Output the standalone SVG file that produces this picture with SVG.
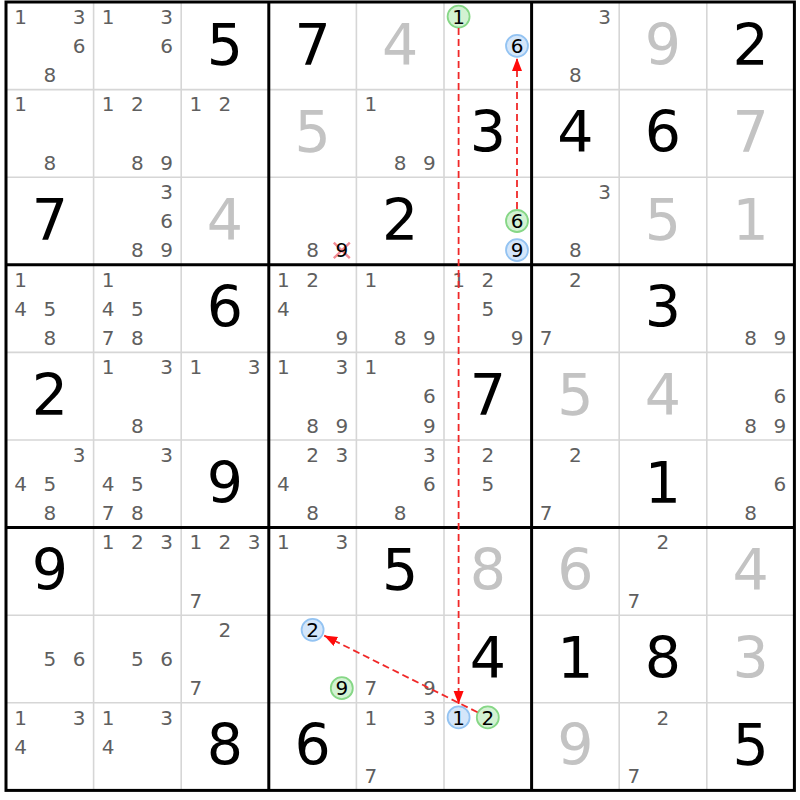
<svg xmlns="http://www.w3.org/2000/svg" width="800" height="800" viewBox="0 0 800 800">
<style>
text{font-family:"DejaVu Sans","Verdana",sans-serif;text-anchor:middle}
.p{font-size:20px;fill:#5f5f5f}
.g{font-size:57px;fill:#000}
.s{font-size:57px;fill:#c3c3c3}
.k{font-size:20px;fill:#000}
.thin{stroke:#d6d6d6;stroke-width:1.6}
.thick{stroke:#000;stroke-width:3}
.cg{fill:#d3f2d3;stroke:#86d786;stroke-width:1.8}
.cb{fill:#d4e6fa;stroke:#93c3f2;stroke-width:1.8}
.ar{stroke:#f02828;stroke-width:1.8;stroke-dasharray:7 4;fill:none}
</style>
<defs>
<marker id="ah" markerUnits="userSpaceOnUse" markerWidth="14" markerHeight="12" refX="13" refY="5" orient="auto">
<path d="M0,0 L13,5 L0,10 z" fill="#ff0a0a"/>
</marker>
</defs>
<rect width="800" height="800" fill="#fff"/>
<g id="grid">
<g class="thin">
<line x1="93.6" y1="2" x2="93.6" y2="790.4"/><line x1="181.2" y1="2" x2="181.2" y2="790.4"/>
<line x1="356.4" y1="2" x2="356.4" y2="790.4"/><line x1="444" y1="2" x2="444" y2="790.4"/>
<line x1="619.2" y1="2" x2="619.2" y2="790.4"/><line x1="706.8" y1="2" x2="706.8" y2="790.4"/>
<line x1="6" y1="89.6" x2="794.4" y2="89.6"/><line x1="6" y1="177.2" x2="794.4" y2="177.2"/>
<line x1="6" y1="352.4" x2="794.4" y2="352.4"/><line x1="6" y1="440" x2="794.4" y2="440"/>
<line x1="6" y1="615.2" x2="794.4" y2="615.2"/><line x1="6" y1="702.8" x2="794.4" y2="702.8"/>
</g>
<g class="thick">
<line x1="268.8" y1="2" x2="268.8" y2="790.4"/><line x1="531.6" y1="2" x2="531.6" y2="790.4"/>
<line x1="6" y1="264.8" x2="794.4" y2="264.8"/><line x1="6" y1="527.6" x2="794.4" y2="527.6"/>
<rect x="6" y="2" width="788.4" height="788.4" fill="none"/>
</g>
</g>
<!-- row 0 -->
<g id="r0c0" transform="translate(6,2)"><text class="p" x="14.6" y="21.8">1</text><text class="p" x="73" y="21.8">3</text><text class="p" x="73" y="51">6</text><text class="p" x="43.8" y="80.2">8</text></g>
<g id="r0c1" transform="translate(93.6,2)"><text class="p" x="14.6" y="21.8">1</text><text class="p" x="73" y="21.8">3</text><text class="p" x="73" y="51">6</text></g>
<g id="r0c2" transform="translate(181.2,2)"><text class="g" x="43.8" y="62.5">5</text></g>
<g id="r0c3" transform="translate(268.8,2)"><text class="g" x="43.8" y="62.5">7</text></g>
<g id="r0c4" transform="translate(356.4,2)"><text class="s" x="43.8" y="62.5">4</text></g>
<g id="r0c5" transform="translate(444,2)"><circle class="cg" cx="14.6" cy="14.6" r="11"/><text class="k" x="14.6" y="21.8">1</text><circle class="cb" cx="73" cy="43.8" r="11"/><text class="k" x="73" y="51">6</text></g>
<g id="r0c6" transform="translate(531.6,2)"><text class="p" x="73" y="21.8">3</text><text class="p" x="43.8" y="80.2">8</text></g>
<g id="r0c7" transform="translate(619.2,2)"><text class="s" x="43.8" y="62.5">9</text></g>
<g id="r0c8" transform="translate(706.8,2)"><text class="g" x="43.8" y="62.5">2</text></g>
<!-- row 1 -->
<g id="r1c0" transform="translate(6,89.6)"><text class="p" x="14.6" y="21.8">1</text><text class="p" x="43.8" y="80.2">8</text></g>
<g id="r1c1" transform="translate(93.6,89.6)"><text class="p" x="14.6" y="21.8">1</text><text class="p" x="43.8" y="21.8">2</text><text class="p" x="43.8" y="80.2">8</text><text class="p" x="73" y="80.2">9</text></g>
<g id="r1c2" transform="translate(181.2,89.6)"><text class="p" x="14.6" y="21.8">1</text><text class="p" x="43.8" y="21.8">2</text></g>
<g id="r1c3" transform="translate(268.8,89.6)"><text class="s" x="43.8" y="62.5">5</text></g>
<g id="r1c4" transform="translate(356.4,89.6)"><text class="p" x="14.6" y="21.8">1</text><text class="p" x="43.8" y="80.2">8</text><text class="p" x="73" y="80.2">9</text></g>
<g id="r1c5" transform="translate(444,89.6)"><text class="g" x="43.8" y="62.5">3</text></g>
<g id="r1c6" transform="translate(531.6,89.6)"><text class="g" x="43.8" y="62.5">4</text></g>
<g id="r1c7" transform="translate(619.2,89.6)"><text class="g" x="43.8" y="62.5">6</text></g>
<g id="r1c8" transform="translate(706.8,89.6)"><text class="s" x="43.8" y="62.5">7</text></g>
<!-- row 2 -->
<g id="r2c0" transform="translate(6,177.2)"><text class="g" x="43.8" y="62.5">7</text></g>
<g id="r2c1" transform="translate(93.6,177.2)"><text class="p" x="73" y="21.8">3</text><text class="p" x="73" y="51">6</text><text class="p" x="43.8" y="80.2">8</text><text class="p" x="73" y="80.2">9</text></g>
<g id="r2c2" transform="translate(181.2,177.2)"><text class="s" x="43.8" y="62.5">4</text></g>
<g id="r2c3" transform="translate(268.8,177.2)"><text class="p" x="43.8" y="80.2">8</text><path d="M65,65.5 L81,81 M81,65.5 L65,81" stroke="#f28b95" stroke-width="2.4" fill="none"/><text class="k" x="73" y="80.2">9</text></g>
<g id="r2c4" transform="translate(356.4,177.2)"><text class="g" x="43.8" y="62.5">2</text></g>
<g id="r2c5" transform="translate(444,177.2)"><circle class="cg" cx="73" cy="43.8" r="11"/><text class="k" x="73" y="51">6</text><circle class="cb" cx="73" cy="73" r="11"/><text class="k" x="73" y="80.2">9</text></g>
<g id="r2c6" transform="translate(531.6,177.2)"><text class="p" x="73" y="21.8">3</text><text class="p" x="43.8" y="80.2">8</text></g>
<g id="r2c7" transform="translate(619.2,177.2)"><text class="s" x="43.8" y="62.5">5</text></g>
<g id="r2c8" transform="translate(706.8,177.2)"><text class="s" x="43.8" y="62.5">1</text></g>
<!-- row 3 -->
<g id="r3c0" transform="translate(6,264.8)"><text class="p" x="14.6" y="21.8">1</text><text class="p" x="14.6" y="51">4</text><text class="p" x="43.8" y="51">5</text><text class="p" x="43.8" y="80.2">8</text></g>
<g id="r3c1" transform="translate(93.6,264.8)"><text class="p" x="14.6" y="21.8">1</text><text class="p" x="14.6" y="51">4</text><text class="p" x="43.8" y="51">5</text><text class="p" x="14.6" y="80.2">7</text><text class="p" x="43.8" y="80.2">8</text></g>
<g id="r3c2" transform="translate(181.2,264.8)"><text class="g" x="43.8" y="62.5">6</text></g>
<g id="r3c3" transform="translate(268.8,264.8)"><text class="p" x="14.6" y="21.8">1</text><text class="p" x="43.8" y="21.8">2</text><text class="p" x="14.6" y="51">4</text><text class="p" x="73" y="80.2">9</text></g>
<g id="r3c4" transform="translate(356.4,264.8)"><text class="p" x="14.6" y="21.8">1</text><text class="p" x="43.8" y="80.2">8</text><text class="p" x="73" y="80.2">9</text></g>
<g id="r3c5" transform="translate(444,264.8)"><text class="p" x="14.6" y="21.8">1</text><text class="p" x="43.8" y="21.8">2</text><text class="p" x="43.8" y="51">5</text><text class="p" x="73" y="80.2">9</text></g>
<g id="r3c6" transform="translate(531.6,264.8)"><text class="p" x="43.8" y="21.8">2</text><text class="p" x="14.6" y="80.2">7</text></g>
<g id="r3c7" transform="translate(619.2,264.8)"><text class="g" x="43.8" y="62.5">3</text></g>
<g id="r3c8" transform="translate(706.8,264.8)"><text class="p" x="43.8" y="80.2">8</text><text class="p" x="73" y="80.2">9</text></g>
<!-- row 4 -->
<g id="r4c0" transform="translate(6,352.4)"><text class="g" x="43.8" y="62.5">2</text></g>
<g id="r4c1" transform="translate(93.6,352.4)"><text class="p" x="14.6" y="21.8">1</text><text class="p" x="73" y="21.8">3</text><text class="p" x="43.8" y="80.2">8</text></g>
<g id="r4c2" transform="translate(181.2,352.4)"><text class="p" x="14.6" y="21.8">1</text><text class="p" x="73" y="21.8">3</text></g>
<g id="r4c3" transform="translate(268.8,352.4)"><text class="p" x="14.6" y="21.8">1</text><text class="p" x="73" y="21.8">3</text><text class="p" x="43.8" y="80.2">8</text><text class="p" x="73" y="80.2">9</text></g>
<g id="r4c4" transform="translate(356.4,352.4)"><text class="p" x="14.6" y="21.8">1</text><text class="p" x="73" y="51">6</text><text class="p" x="73" y="80.2">9</text></g>
<g id="r4c5" transform="translate(444,352.4)"><text class="g" x="43.8" y="62.5">7</text></g>
<g id="r4c6" transform="translate(531.6,352.4)"><text class="s" x="43.8" y="62.5">5</text></g>
<g id="r4c7" transform="translate(619.2,352.4)"><text class="s" x="43.8" y="62.5">4</text></g>
<g id="r4c8" transform="translate(706.8,352.4)"><text class="p" x="73" y="51">6</text><text class="p" x="43.8" y="80.2">8</text><text class="p" x="73" y="80.2">9</text></g>
<!-- row 5 -->
<g id="r5c0" transform="translate(6,440)"><text class="p" x="73" y="21.8">3</text><text class="p" x="14.6" y="51">4</text><text class="p" x="43.8" y="51">5</text><text class="p" x="43.8" y="80.2">8</text></g>
<g id="r5c1" transform="translate(93.6,440)"><text class="p" x="73" y="21.8">3</text><text class="p" x="14.6" y="51">4</text><text class="p" x="43.8" y="51">5</text><text class="p" x="14.6" y="80.2">7</text><text class="p" x="43.8" y="80.2">8</text></g>
<g id="r5c2" transform="translate(181.2,440)"><text class="g" x="43.8" y="62.5">9</text></g>
<g id="r5c3" transform="translate(268.8,440)"><text class="p" x="43.8" y="21.8">2</text><text class="p" x="73" y="21.8">3</text><text class="p" x="14.6" y="51">4</text><text class="p" x="43.8" y="80.2">8</text></g>
<g id="r5c4" transform="translate(356.4,440)"><text class="p" x="73" y="21.8">3</text><text class="p" x="73" y="51">6</text><text class="p" x="43.8" y="80.2">8</text></g>
<g id="r5c5" transform="translate(444,440)"><text class="p" x="43.8" y="21.8">2</text><text class="p" x="43.8" y="51">5</text></g>
<g id="r5c6" transform="translate(531.6,440)"><text class="p" x="43.8" y="21.8">2</text><text class="p" x="14.6" y="80.2">7</text></g>
<g id="r5c7" transform="translate(619.2,440)"><text class="g" x="43.8" y="62.5">1</text></g>
<g id="r5c8" transform="translate(706.8,440)"><text class="p" x="73" y="51">6</text><text class="p" x="43.8" y="80.2">8</text></g>
<!-- row 6 -->
<g id="r6c0" transform="translate(6,527.6)"><text class="g" x="43.8" y="62.5">9</text></g>
<g id="r6c1" transform="translate(93.6,527.6)"><text class="p" x="14.6" y="21.8">1</text><text class="p" x="43.8" y="21.8">2</text><text class="p" x="73" y="21.8">3</text></g>
<g id="r6c2" transform="translate(181.2,527.6)"><text class="p" x="14.6" y="21.8">1</text><text class="p" x="43.8" y="21.8">2</text><text class="p" x="73" y="21.8">3</text><text class="p" x="14.6" y="80.2">7</text></g>
<g id="r6c3" transform="translate(268.8,527.6)"><text class="p" x="14.6" y="21.8">1</text><text class="p" x="73" y="21.8">3</text></g>
<g id="r6c4" transform="translate(356.4,527.6)"><text class="g" x="43.8" y="62.5">5</text></g>
<g id="r6c5" transform="translate(444,527.6)"><text class="s" x="43.8" y="62.5">8</text></g>
<g id="r6c6" transform="translate(531.6,527.6)"><text class="s" x="43.8" y="62.5">6</text></g>
<g id="r6c7" transform="translate(619.2,527.6)"><text class="p" x="43.8" y="21.8">2</text><text class="p" x="14.6" y="80.2">7</text></g>
<g id="r6c8" transform="translate(706.8,527.6)"><text class="s" x="43.8" y="62.5">4</text></g>
<!-- row 7 -->
<g id="r7c0" transform="translate(6,615.2)"><text class="p" x="43.8" y="51">5</text><text class="p" x="73" y="51">6</text></g>
<g id="r7c1" transform="translate(93.6,615.2)"><text class="p" x="43.8" y="51">5</text><text class="p" x="73" y="51">6</text></g>
<g id="r7c2" transform="translate(181.2,615.2)"><text class="p" x="43.8" y="21.8">2</text><text class="p" x="14.6" y="80.2">7</text></g>
<g id="r7c3" transform="translate(268.8,615.2)"><circle class="cb" cx="43.8" cy="14.6" r="11"/><text class="k" x="43.8" y="21.8">2</text><circle class="cg" cx="73" cy="73" r="11"/><text class="k" x="73" y="80.2">9</text></g>
<g id="r7c4" transform="translate(356.4,615.2)"><text class="p" x="14.6" y="80.2">7</text><text class="p" x="73" y="80.2">9</text></g>
<g id="r7c5" transform="translate(444,615.2)"><text class="g" x="43.8" y="62.5">4</text></g>
<g id="r7c6" transform="translate(531.6,615.2)"><text class="g" x="43.8" y="62.5">1</text></g>
<g id="r7c7" transform="translate(619.2,615.2)"><text class="g" x="43.8" y="62.5">8</text></g>
<g id="r7c8" transform="translate(706.8,615.2)"><text class="s" x="43.8" y="62.5">3</text></g>
<!-- row 8 -->
<g id="r8c0" transform="translate(6,702.8)"><text class="p" x="14.6" y="21.8">1</text><text class="p" x="73" y="21.8">3</text><text class="p" x="14.6" y="51">4</text></g>
<g id="r8c1" transform="translate(93.6,702.8)"><text class="p" x="14.6" y="21.8">1</text><text class="p" x="73" y="21.8">3</text><text class="p" x="14.6" y="51">4</text></g>
<g id="r8c2" transform="translate(181.2,702.8)"><text class="g" x="43.8" y="62.5">8</text></g>
<g id="r8c3" transform="translate(268.8,702.8)"><text class="g" x="43.8" y="62.5">6</text></g>
<g id="r8c4" transform="translate(356.4,702.8)"><text class="p" x="14.6" y="21.8">1</text><text class="p" x="73" y="21.8">3</text><text class="p" x="14.6" y="80.2">7</text></g>
<g id="r8c5" transform="translate(444,702.8)"><circle class="cb" cx="14.6" cy="14.6" r="11"/><text class="k" x="14.6" y="21.8">1</text><circle class="cg" cx="43.8" cy="14.6" r="11"/><text class="k" x="43.8" y="21.8">2</text></g>
<g id="r8c6" transform="translate(531.6,702.8)"><text class="s" x="43.8" y="62.5">9</text></g>
<g id="r8c7" transform="translate(619.2,702.8)"><text class="p" x="43.8" y="21.8">2</text><text class="p" x="14.6" y="80.2">7</text></g>
<g id="r8c8" transform="translate(706.8,702.8)"><text class="g" x="43.8" y="62.5">5</text></g>
<g id="connectors">
<line class="ar" x1="458.6" y1="28" x2="458.6" y2="704" marker-end="url(#ah)"/>
<line class="ar" x1="517" y1="209" x2="517" y2="58" marker-end="url(#ah)"/>
<line class="ar" x1="477.5" y1="712.3" x2="324.2" y2="635.6" marker-end="url(#ah)"/>
</g>
</svg>
